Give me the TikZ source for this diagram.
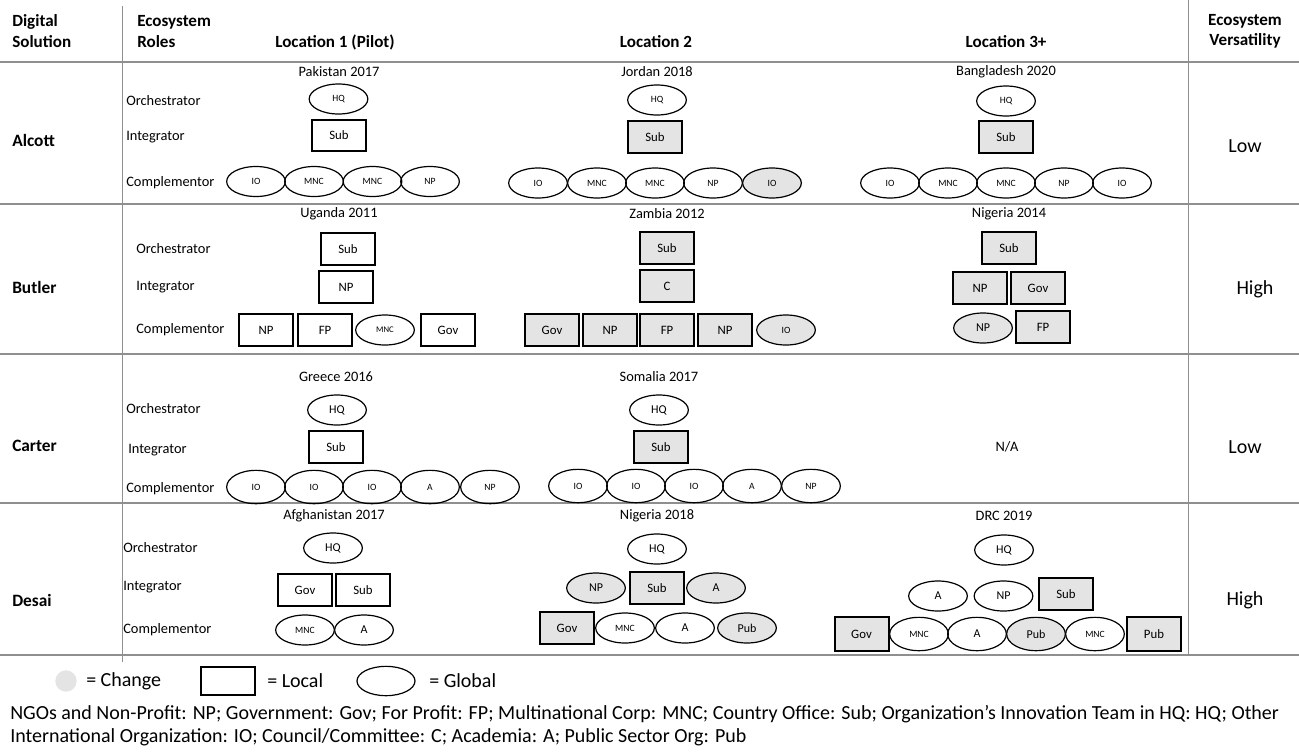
\documentclass[tikz,border=0pt]{standalone}
\usepackage{fontspec}
\setmainfont{Carlito}
\usetikzlibrary{shapes.geometric}
\definecolor{chgfill}{HTML}{E4E4E4}
\definecolor{rulegray}{HTML}{8F8F8F}
\tikzset{
  loc/.style={draw=black, rectangle, line width=1.5pt, minimum width=40.5pt, minimum height=23.5pt, inner sep=0pt, font=\fontsize{9.6}{10}\selectfont},
  glob/.style={draw=black, ellipse, line width=0.9pt, minimum width=44pt, minimum height=22.5pt, inner sep=0pt, font=\fontsize{7.2}{8}\selectfont},
  tall/.style={minimum height=25pt},
  bigtxt/.style={font=\fontsize{9}{10}\selectfont},
  changed/.style={fill=chgfill},
  role/.style={anchor=west, inner sep=0pt, font=\fontsize{10.8}{12}\selectfont},
  place/.style={inner sep=0pt, font=\fontsize{10.8}{12}\selectfont},
  sol/.style={anchor=west, inner sep=0pt, font=\bfseries\fontsize{13}{15}\selectfont},
  head/.style={inner sep=0pt, anchor=base, font=\bfseries\fontsize{12.8}{15}\selectfont},
  vers/.style={inner sep=0pt, font=\fontsize{15}{17}\selectfont},
  legtxt/.style={anchor=west, inner sep=0pt, font=\fontsize{15}{17}\selectfont},
  note/.style={anchor=west, inner sep=0pt, font=\fontsize{15}{17}\selectfont},
  hrule/.style={draw=rulegray, line width=1.2pt},
  vrule/.style={draw=rulegray, line width=0.7pt},
}
\begin{document}
\begin{tikzpicture}[x=0.75pt,y=-0.75pt]
\useasboundingbox (0,0) rectangle (1299,751);
\fill[white] (0,0) rectangle (1299,751);

% table rules
\draw[vrule] (122,6) -- (122,662);
\draw[vrule] (1188,0) -- (1188,655);
\foreach \yy in {62,204,354,503,655} \draw[hrule] (0,\yy) -- (1299,\yy);

% header
\node[head, anchor=base west] (hDig1) at (12,26) {Digital};
\node[head, anchor=base west] (hDig2) at (12,47) {Solution};
\node[head, anchor=base west] (hRole1) at (137,26) {Ecosystem};
\node[head, anchor=base west] (hRole2) at (137,47) {Roles};
\node[head] (hL1) at (335,47) {Location 1 (Pilot)};
\node[head] (hL2) at (656,47) {Location 2};
\node[head] (hL3) at (1006,47) {Location 3+};
\node[head] (hVers1) at (1245,25) {Ecosystem};
\node[head] (hVers2) at (1245,45) {Versatility};

% ---------------- Alcott ----------------
\node[sol] (alcott) at (12,140) {Alcott};
\node[role] (aOrch) at (126,101) {Orchestrator};
\node[role] (aInt) at (126,137) {Integrator};
\node[role] (aComp) at (126,183) {Complementor};

\node[place] (pak) at (339,72) {Pakistan 2017};
\node[glob] (pakHQ) at (338.5,99) {HQ};
\node[loc] (pakSub) at (339,135.5) {Sub};
\node[glob] (pakC1) at (256,181.5) {IO};
\node[glob] (pakC2) at (314,181.5) {MNC};
\node[glob] (pakC3) at (372.5,181.5) {MNC};
\node[glob] (pakC4) at (430,181.5) {NP};

\node[place] (jor) at (657,72) {Jordan 2018};
\node[glob] (jorHQ) at (657,100) {HQ};
\node[loc,changed] (jorSub) at (655,137) {Sub};
\node[glob] (jorC1) at (538,183) {IO};
\node[glob] (jorC2) at (597,183) {MNC};
\node[glob] (jorC3) at (655,183) {MNC};
\node[glob] (jorC4) at (713,183) {NP};
\node[glob,changed] (jorC5) at (772,183) {IO};

\node[place] (ban) at (1006,72) {Bangladesh 2020};
\node[glob] (banHQ) at (1006,101) {HQ};
\node[loc,changed] (banSub) at (1006,137) {Sub};
\node[glob] (banC1) at (890,183) {IO};
\node[glob] (banC2) at (948,183) {MNC};
\node[glob] (banC3) at (1006,183) {MNC};
\node[glob] (banC4) at (1064,183) {NP};
\node[glob] (banC5) at (1122,183) {IO};

\node[vers] (aVers) at (1245,146) {Low};

% ---------------- Butler ----------------
\node[sol] (butler) at (12,287) {Butler};
\node[role] (bOrch) at (136,249) {Orchestrator};
\node[role] (bInt) at (136,287) {Integrator};
\node[role] (bComp) at (136,330) {Complementor};

\node[place] (uga) at (339,214) {Uganda 2011};
\node[loc] (ugaSub) at (348,249) {Sub};
\node[loc] (ugaNP) at (346,287) {NP};
\node[loc] (ugaC1) at (266,330) {NP};
\node[loc] (ugaC2) at (325,330) {FP};
\node[glob, font=\fontsize{6.5}{7}\selectfont] (ugaC3) at (385,330) {MNC};
\node[loc] (ugaC4) at (448,330) {Gov};

\node[place] (zam) at (667,214) {Zambia 2012};
\node[loc,changed] (zamSub) at (667,248) {Sub};
\node[loc,changed] (zamC) at (667,286) {C};
\node[loc,changed] (zamC1) at (552,330) {Gov};
\node[loc,changed] (zamC2) at (610,330) {NP};
\node[loc,changed] (zamC3) at (667,330) {FP};
\node[loc,changed] (zamC4) at (725,330) {NP};
\node[glob,changed] (zamC5) at (786,330) {IO};

\node[place] (nga) at (1009,214) {Nigeria 2014};
\node[loc,changed] (ngaSub) at (1009,248) {Sub};
\node[loc,changed] (ngaNP) at (980,288) {NP};
\node[loc,changed] (ngaGov) at (1038,288) {Gov};
\node[glob,changed,bigtxt] (ngaC1) at (983,328) {NP};
\node[loc,changed] (ngaC2) at (1043,327) {FP};

\node[vers] (bVers) at (1255,289) {High};

% ---------------- Carter ----------------
\node[sol] (carter) at (12,446) {Carter};
\node[role] (cOrch) at (126,409) {Orchestrator};
\node[role] (cInt) at (128,450) {Integrator};
\node[role] (cComp) at (126,489) {Complementor};

\node[place] (gre) at (336,377) {Greece 2016};
\node[glob,bigtxt] (greHQ) at (337,410) {HQ};
\node[loc] (greSub) at (336,447) {Sub};
\node[glob,tall] (greC1) at (256,487) {IO};
\node[glob,tall] (greC2) at (314,487) {IO};
\node[glob,tall] (greC3) at (372,487) {IO};
\node[glob,tall] (greC4) at (430,487) {A};
\node[glob,tall] (greC5) at (490,487) {NP};

\node[place] (som) at (659,377) {Somalia 2017};
\node[glob,bigtxt] (somHQ) at (659,410) {HQ};
\node[loc,changed] (somSub) at (661,447) {Sub};
\node[glob,tall] (somC1) at (578,486) {IO};
\node[glob,tall] (somC2) at (636,486) {IO};
\node[glob,tall] (somC3) at (694,486) {IO};
\node[glob,tall] (somC4) at (752,486) {A};
\node[glob,tall] (somC5) at (811,486) {NP};

\node[place] (cNA) at (1007,447) {N/A};
\node[vers] (cVers) at (1245,447) {Low};

% ---------------- Desai ----------------
\node[sol] (desai) at (12,600) {Desai};
\node[role] (dOrch) at (123,548) {Orchestrator};
\node[role] (dInt) at (123,587) {Integrator};
\node[role] (dComp) at (123,630) {Complementor};

\node[place] (afg) at (334,516) {Afghanistan 2017};
\node[glob,bigtxt] (afgHQ) at (333,548) {HQ};
\node[loc] (afgGov) at (305,590) {Gov};
\node[loc] (afgSub) at (363,590) {Sub};
\node[glob] (afgC1) at (305,630) {MNC};
\node[glob,bigtxt] (afgC2) at (364,630) {A};

\node[place] (ngb) at (657,516) {Nigeria 2018};
\node[glob,bigtxt] (ngbHQ) at (657,549) {HQ};
\node[glob,changed,bigtxt] (ngbNP) at (596,588) {NP};
\node[loc,changed] (ngbSub) at (657,588) {Sub};
\node[glob,changed,bigtxt] (ngbA) at (716,588) {A};
\node[loc,changed] (ngbC1) at (567,628) {Gov};
\node[glob] (ngbC2) at (625,628) {MNC};
\node[glob,bigtxt] (ngbC3) at (685,628) {A};
\node[glob,changed,bigtxt] (ngbC4) at (747,628) {Pub};

\node[place] (drc) at (1004,516) {DRC 2019};
\node[glob,bigtxt] (drcHQ) at (1004,550) {HQ};
\node[glob,bigtxt] (drcA) at (938,596) {A};
\node[glob,bigtxt] (drcNP) at (1003.5,596) {NP};
\node[loc,changed] (drcSub) at (1066,594) {Sub};
\node[loc,changed,tall] (drcC1) at (861.5,634) {Gov};
\node[glob,tall] (drcC2) at (919,634) {MNC};
\node[glob,tall,bigtxt] (drcC3) at (977,634) {A};
\node[glob,tall,changed,bigtxt] (drcC4) at (1036,634) {Pub};
\node[glob,tall] (drcC5) at (1095,634) {MNC};
\node[loc,changed,tall] (drcC6) at (1154,634) {Pub};

\node[vers] (dVers) at (1245,600) {High};

% ---------------- legend ----------------
\node[circle, fill=chgfill, minimum size=16pt, inner sep=0pt] (lgChg) at (66,681) {};
\node[legtxt] (lgChgT) at (86,681) {= Change};
\node[loc, minimum height=21pt] (lgLoc) at (228,681) {};
\node[legtxt] (lgLocT) at (267,681) {= Local};
\node[glob, minimum width=43.5pt, minimum height=22pt] (lgGlob) at (386,681) {};
\node[legtxt] (lgGlobT) at (429,681) {= Global};

\node[note] (fn1) at (10,714) {NGOs and Non-Profit: NP; Government: Gov; For Profit: FP; Multinational Corp: MNC; Country Office: Sub; Organization’s Innovation Team in HQ: HQ; Other};
\node[note] (fn2) at (10,737) {International Organization: IO; Council/Committee: C; Academia: A; Public Sector Org: Pub};
\end{tikzpicture}
\end{document}
